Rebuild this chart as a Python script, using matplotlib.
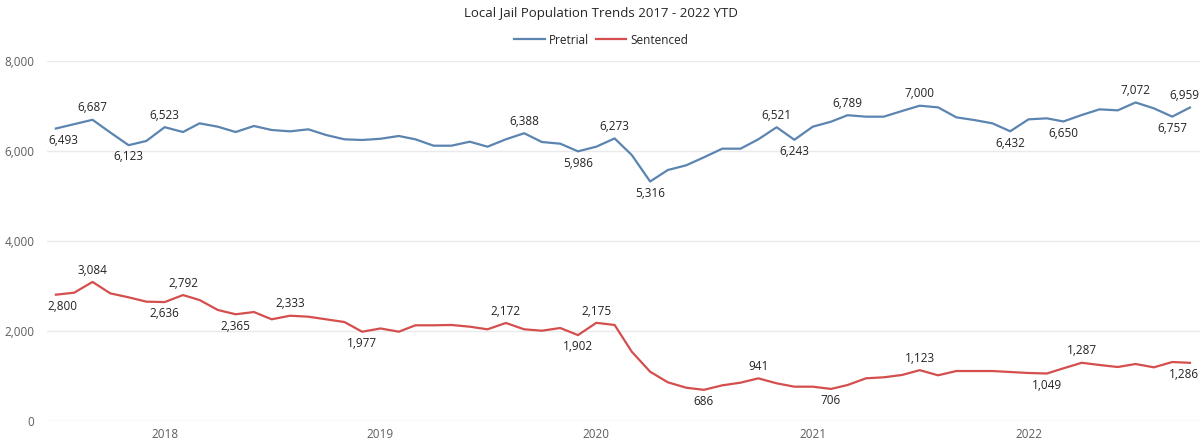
import matplotlib
matplotlib.use("Agg")
import matplotlib.pyplot as plt
import matplotlib.dates as mdates
import pandas as pd

plt.rcParams['font.family'] = ['Open Sans', 'DejaVu Sans']

months = pd.date_range("2017-07-01", "2022-10-01", freq="MS")

pretrial = [6493, 6590, 6687, 6405, 6123, 6216, 6523, 6415, 6608, 6533,
            6415, 6549, 6460, 6430, 6475, 6349, 6253, 6238, 6265, 6327,
            6253, 6111, 6111, 6200, 6089, 6253, 6388, 6193, 6156, 5986,
            6089, 6273, 5904, 5316, 5571, 5675, 5853, 6045, 6045, 6253,
            6521, 6243, 6533, 6645, 6789, 6756, 6756, 6882, 7000, 6963,
            6741, 6682, 6608, 6432, 6697, 6719, 6650, 6793, 6919, 6897,
            7072, 6941, 6757, 6959]

sentenced = [2800, 2845, 3084, 2830, 2742, 2645, 2636, 2792, 2682, 2460,
             2365, 2415, 2253, 2333, 2311, 2253, 2193, 1977, 2050, 1978,
             2120, 2120, 2127, 2089, 2031, 2172, 2031, 2000, 2060, 1902,
             2175, 2127, 1533, 1089, 853, 733, 686, 786, 845, 941,
             831, 756, 756, 706, 793, 942, 964, 1016, 1123, 1009,
             1104, 1104, 1104, 1082, 1060, 1049, 1164, 1287, 1238, 1193,
             1260, 1186, 1304, 1286]

# labelled points: (index, +1 above / -1 below)
pretrial_labels = [(0, -1), (2, 1), (4, -1), (6, 1), (26, 1), (29, -1), (31, 1),
                   (33, -1), (40, 1), (41, -1), (44, 1), (48, 1), (53, -1),
                   (56, -1), (60, 1), (62, -1), (63, 1)]
sentenced_labels = [(0, -1), (2, 1), (6, -1), (7, 1), (10, -1), (13, 1), (17, -1),
                    (25, 1), (29, -1), (30, 1), (36, -1), (39, 1), (43, -1),
                    (48, 1), (55, -1), (57, 1), (63, -1)]

series_names = ["Pretrial", "Sentenced"]
colors = ["#5B84B0", "#D44E4E"]

fig = plt.figure(figsize=(12.02, 4.40), dpi=100)
ax = fig.add_axes([47/1202, 19.3/440, 1153/1202, 360/440])

ax.plot(months, pretrial, color=colors[0], lw=1.6, label=series_names[0])
ax.plot(months, sentenced, color=colors[1], lw=1.6, label=series_names[1])

def add_labels(values, labels):
    n = len(values)
    for i, pos in labels:
        dx = 0
        if i == 0:
            dx = 5
        elif i == n - 1:
            dx = -4
        ax.annotate(f"{values[i]:,}", (months[i], values[i]),
                    xytext=(dx, 8.5 * pos), textcoords="offset points",
                    ha="center", va="center", fontsize=8.5, color="#252423")

add_labels(pretrial, pretrial_labels)
add_labels(sentenced, sentenced_labels)

ax.set_ylim(0, 8000)
ax.set_yticks([0, 2000, 4000, 6000, 8000])
ax.yaxis.set_major_formatter(matplotlib.ticker.FuncFormatter(lambda v, p: f"{int(v):,}"))
left = months[0] - pd.Timedelta(days=15)
right = months[-1] + pd.Timedelta(days=17)
ax.set_xlim(left, right)
ax.xaxis.set_major_locator(mdates.YearLocator())
ax.xaxis.set_major_formatter(mdates.DateFormatter("%Y"))

ax.grid(axis="y", color="#EAEAEA", lw=1)
ax.set_axisbelow(True)
for s in ax.spines.values():
    s.set_visible(False)
ax.tick_params(axis="both", length=0, labelsize=8.5, colors="#605E5C")
ax.tick_params(axis="y", pad=9)
ax.tick_params(axis="x", pad=5)

fig.text(0.5, 1 - 14/440, "Local Jail Population Trends 2017 - 2022 YTD",
         ha="center", va="center", fontsize=9.5, color="#252423")
fig.legend(loc="center", bbox_to_anchor=(0.5, 1 - 40/440), ncol=2, frameon=False,
           fontsize=8.5, handlelength=2.6, handletextpad=0.3, columnspacing=0.6,
           labelcolor="#252423")

fig.savefig("out.png", dpi=100)
